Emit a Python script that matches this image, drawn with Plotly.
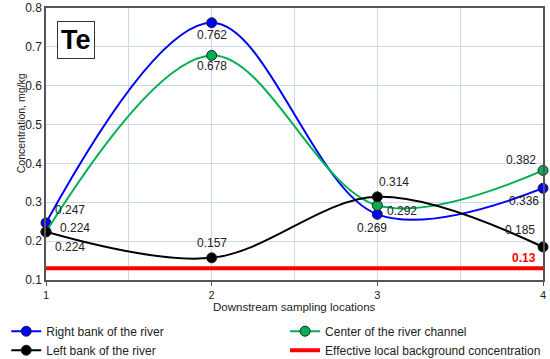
import plotly.graph_objects as go

locations = [1, 2, 3, 4]
right_bank = [0.247, 0.762, 0.269, 0.336]
center = [0.224, 0.678, 0.292, 0.382]
left_bank = [0.224, 0.157, 0.314, 0.185]
background = [0.13, 0.13, 0.13, 0.13]

names = ["Right bank of the river", "Center of the river channel",
         "Left bank of the river", "Effective local background concentration"]

FONT = "Liberation Sans"
fig = go.Figure()

def add_series(y, name, color, legend):
    fig.add_trace(go.Scatter(
        x=locations, y=y, name=name, mode="lines+markers", legend=legend,
        line=dict(color=color, width=2, shape="spline", smoothing=1.0),
        marker=dict(size=10, color=color, line=dict(color="#222222", width=1)),
        cliponaxis=False))

add_series(right_bank, names[0], "#0000ff", "legend")
add_series(center, names[1], "#00b050", "legend2")
add_series(left_bank, names[2], "#000000", "legend")
fig.add_trace(go.Scatter(x=locations, y=background, name=names[3], mode="lines",
                         legend="legend2",
                         line=dict(color="#ff0000", width=4), cliponaxis=False))

# data labels: (series values, index, xshift, yshift, xanchor)
label_specs = [
    (right_bank, 0, 7, 13, "left"), (right_bank, 1, 0, -12, "center"),
    (right_bank, 2, -5, -14, "center"), (right_bank, 3, -2, -13, "right"),
    (center, 0, 12, 4, "left"), (center, 1, 0, -11, "center"),
    (center, 2, 8, -6, "left"), (center, 3, -5, 10, "right"),
    (left_bank, 0, 7, -15, "left"), (left_bank, 1, 0, 15, "center"),
    (left_bank, 2, 0, 15, "left"), (left_bank, 3, -6, 17, "right"),
]
for ser, i, xs, ys, xa in label_specs:
    fig.add_annotation(x=locations[i], y=ser[i], text=f"{ser[i]:g}", showarrow=False,
                       xshift=xs, yshift=ys, xanchor=xa,
                       font=dict(family=FONT, size=12, color="#222222"))
fig.add_annotation(x=locations[3], y=background[3], text=f"<b>{background[3]:g}</b>",
                   showarrow=False, xshift=-5, yshift=10, xanchor="right",
                   font=dict(family=FONT, size=12, color="#ff0000"))

fig.add_annotation(xref="paper", yref="paper", x=0.022, y=0.952, xanchor="left", yanchor="top",
                   text="<b>Te</b>", showarrow=False, bordercolor="#333333", borderwidth=1,
                   borderpad=3, bgcolor="white",
                   font=dict(family=FONT, size=27, color="#000000"))

# axis titles
fig.add_annotation(xref="paper", yref="paper", x=-0.066, y=0.577, textangle=-90,
                   text="Concentration, mg/kg", showarrow=False,
                   font=dict(family=FONT, size=10.5, color="#222222"))
fig.add_annotation(xref="paper", yref="paper", x=0.499, y=-0.128,
                   text="Downstream sampling locations", showarrow=False,
                   font=dict(family=FONT, size=11.5, color="#222222"))

legend_common = dict(orientation="v", yanchor="top", xanchor="left", tracegroupgap=0,
                     itemwidth=30, bgcolor="rgba(0,0,0,0)",
                     font=dict(family=FONT, size=12, color="#222222"))

fig.update_layout(
    width=550, height=359, margin=dict(l=46, r=7, t=8, b=79, autoexpand=False),
    paper_bgcolor="white", plot_bgcolor="white",
    font=dict(family=FONT, size=12, color="#222222"),
    showlegend=True,
    legend=dict(x=-0.080, y=-0.135, **legend_common),
    legend2=dict(x=0.481, y=-0.135, **legend_common),
    xaxis=dict(range=[1, 4], tickvals=locations, ticktext=[str(v) for v in locations],
               automargin=False, tickfont=dict(size=11),
               showgrid=True, gridcolor="#c9daf0", gridwidth=1,
               minor=dict(dtick=0.5, tick0=1, showgrid=True, gridcolor="#c9daf0"),
               showline=True, linecolor="#555555", linewidth=1.5, mirror=True,
               ticks="outside", ticklen=4, tickcolor="#555555", zeroline=False),
    yaxis=dict(range=[0.1, 0.8], dtick=0.1, tickformat=".1f", automargin=False,
               showgrid=True, gridcolor="#c9daf0", gridwidth=1,
               showline=True, linecolor="#555555", linewidth=1.5, mirror=True,
               ticks="", zeroline=False),
)

fig.write_html("out.html", config={"displayModeBar": False},
               post_script="document.body.style.margin='0';")
